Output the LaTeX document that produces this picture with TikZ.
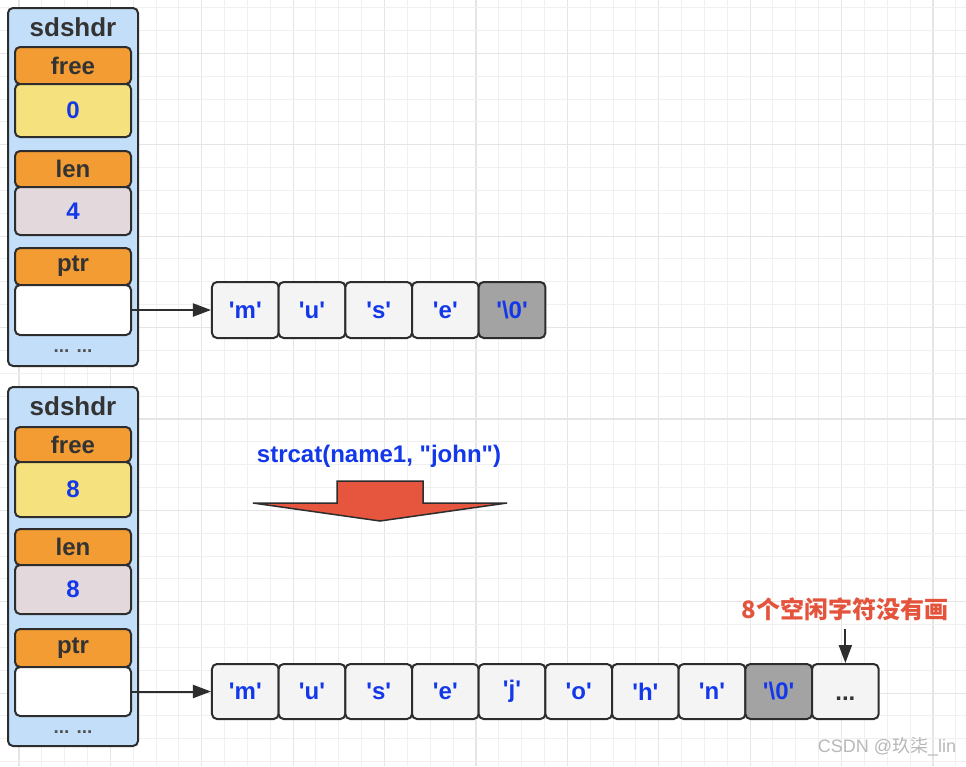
\documentclass[tikz,border=0pt]{standalone}
\usepackage{fontspec}
\setmainfont{Liberation Sans}[Ligatures=TeXOff]
\newfontfamily\cjk{Noto Sans CJK SC}[Ligatures=TeXOff]
\usetikzlibrary{arrows.meta}
\definecolor{dark}{HTML}{2D2D2D}
\definecolor{txtdark}{HTML}{333333}
\definecolor{hdrblue}{HTML}{C3DEF8}
\definecolor{orng}{HTML}{F39C34}
\definecolor{ylw}{HTML}{F5E27E}
\definecolor{mauve}{HTML}{E3D9DC}
\definecolor{cellc}{HTML}{F4F4F4}
\definecolor{cellg}{HTML}{A3A3A3}
\definecolor{bluet}{HTML}{1238EA}
\definecolor{redarr}{HTML}{E6553E}
\definecolor{redt}{HTML}{E4533C}
\definecolor{gridmin}{HTML}{F0F0F0}
\definecolor{gridmaj}{HTML}{E5E5E5}
\tikzset{
  box/.style={draw=dark, line width=2pt, rounded corners=5pt, inner sep=0pt, minimum width=116pt, align=center},
  outerbox/.style={draw=dark, line width=2pt, rounded corners=5pt, fill=hdrblue, inner sep=0pt, minimum width=130pt},
  hdrtxt/.style={font=\bfseries\fontsize{24}{28}\selectfont, text=txtdark},
  valtxt/.style={font=\bfseries\fontsize{24}{28}\selectfont, text=bluet},
  cell/.style={draw=dark, line width=2pt, rounded corners=5pt, inner sep=0pt, minimum width=66.67pt, fill=cellc, font=\bfseries\fontsize{24}{28}\selectfont, text=bluet},
  conn/.style={draw=dark, line width=2pt, -{Triangle[length=18pt,width=13pt]}},
  dotstxt/.style={text=txtdark!85, font=\bfseries\fontsize{19}{22}\selectfont},
}
\begin{document}
\begin{tikzpicture}[x=1pt,y=-1pt]
\useasboundingbox (0,0) rectangle (966,766);
\fill[white] (0,0) rectangle (966,766);
% grid
\foreach \i in {0,...,41}{
  \pgfmathsetmacro{\xx}{18.9+\i*22.85}
  \pgfmathtruncatemacro{\m}{mod(\i,4)}
  \ifnum\m=0
    \draw[gridmaj, line width=1.2pt] (\xx,0) -- (\xx,766);
  \else
    \draw[gridmin, line width=1pt] (\xx,0) -- (\xx,766);
  \fi
}
\foreach \i in {0,...,33}{
  \pgfmathsetmacro{\yy}{7.6+\i*22.85}
  \pgfmathtruncatemacro{\m}{mod(\i+2,4)}
  \ifnum\m=0
    \draw[gridmaj, line width=1.2pt] (0,\yy) -- (966,\yy);
  \else
    \draw[gridmin, line width=1pt] (0,\yy) -- (966,\yy);
  \fi
}
% ===== top sdshdr =====
\node[outerbox, minimum height=358pt] (hdrA) at (73,187) {};
\node[hdrtxt, font=\bfseries\fontsize{26}{30}\selectfont] (titleA) at (73,27) {sdshdr};
\node[box, fill=orng, minimum height=37pt, hdrtxt] (freeA) at (73,65.5) {free};
\node[box, fill=ylw, minimum height=53pt, valtxt] (freevA) at (73,110.5) {0};
\node[box, fill=orng, minimum height=36pt, hdrtxt] (lenA) at (73,169) {len};
\node[box, fill=mauve, minimum height=48pt, valtxt] (lenvA) at (73,211) {4};
\node[box, fill=orng, minimum height=37pt, hdrtxt] (ptrA) at (73,266.5) {ptr};
\node[box, fill=white, minimum height=50pt] (ptrvA) at (73,310) {};
\node[dotstxt] (dotsA) at (73,351) {... ...};
% top array
\foreach \c [count=\k from 0] in {'m','u','s','e'}{
  \node[cell, minimum height=56pt] (a\k) at (245.33+\k*66.67,310) {\c};
}
\node[cell, fill=cellg, minimum height=56pt] (a4) at (245.33+4*66.67,310) {'\textbackslash0'};
\draw[conn] (ptrvA.east) -- (a0.west);
% ===== bottom sdshdr =====
\node[outerbox, minimum height=359pt] (hdrB) at (73,566.5) {};
\node[hdrtxt, font=\bfseries\fontsize{26}{30}\selectfont] (titleB) at (73,406) {sdshdr};
\node[box, fill=orng, minimum height=35pt, hdrtxt] (freeB) at (73,444.5) {free};
\node[box, fill=ylw, minimum height=55pt, valtxt] (freevB) at (73,489.5) {8};
\node[box, fill=orng, minimum height=36pt, hdrtxt] (lenB) at (73,547) {len};
\node[box, fill=mauve, minimum height=49pt, valtxt] (lenvB) at (73,589.5) {8};
\node[box, fill=orng, minimum height=38pt, hdrtxt] (ptrB) at (73,648) {ptr};
\node[box, fill=white, minimum height=49pt] (ptrvB) at (73,691.5) {};
\node[dotstxt] (dotsB) at (73,732) {... ...};
% bottom array
\foreach \c [count=\k from 0] in {'m','u','s','e','j','o','h','n'}{
  \node[cell, minimum height=55pt] (b\k) at (245.33+\k*66.67,691.5) {\c};
}
\node[cell, fill=cellg, minimum height=55pt] (b8) at (245.33+8*66.67,691.5) {'\textbackslash0'};
\node[cell, minimum height=55pt] (b9) at (245.33+9*66.67,691.5) {};
\node[text=txtdark, font=\bfseries\fontsize{24}{28}\selectfont, yshift=-7pt] (b9t) at (b9.center) {...};
\draw[conn] (ptrvB.east) -- (b0.west);
% strcat label and big arrow
\node[valtxt] (op) at (379,456) {strcat(name1, "john")};
\draw[draw=dark, line width=1.5pt, fill=redarr, line join=miter]
  (337,481) -- (423,481) -- (423,503) -- (507,503) -- (380,521) -- (253,503) -- (337,503) -- cycle;
% note
\node[text=redt, font=\cjk\bfseries\fontsize{24}{28}\selectfont] (note) at (845,609) {8个空闲字符没有画};
\coordinate (nstart) at (b9.north |- 0,629);
\draw[conn] (nstart) -- (b9.north);
% watermark
\node[text=black!28, font=\fontsize{18}{21}\selectfont] (wm) at (887,747) {CSDN @{\cjk 玖柒}\_lin};
\end{tikzpicture}
\end{document}
